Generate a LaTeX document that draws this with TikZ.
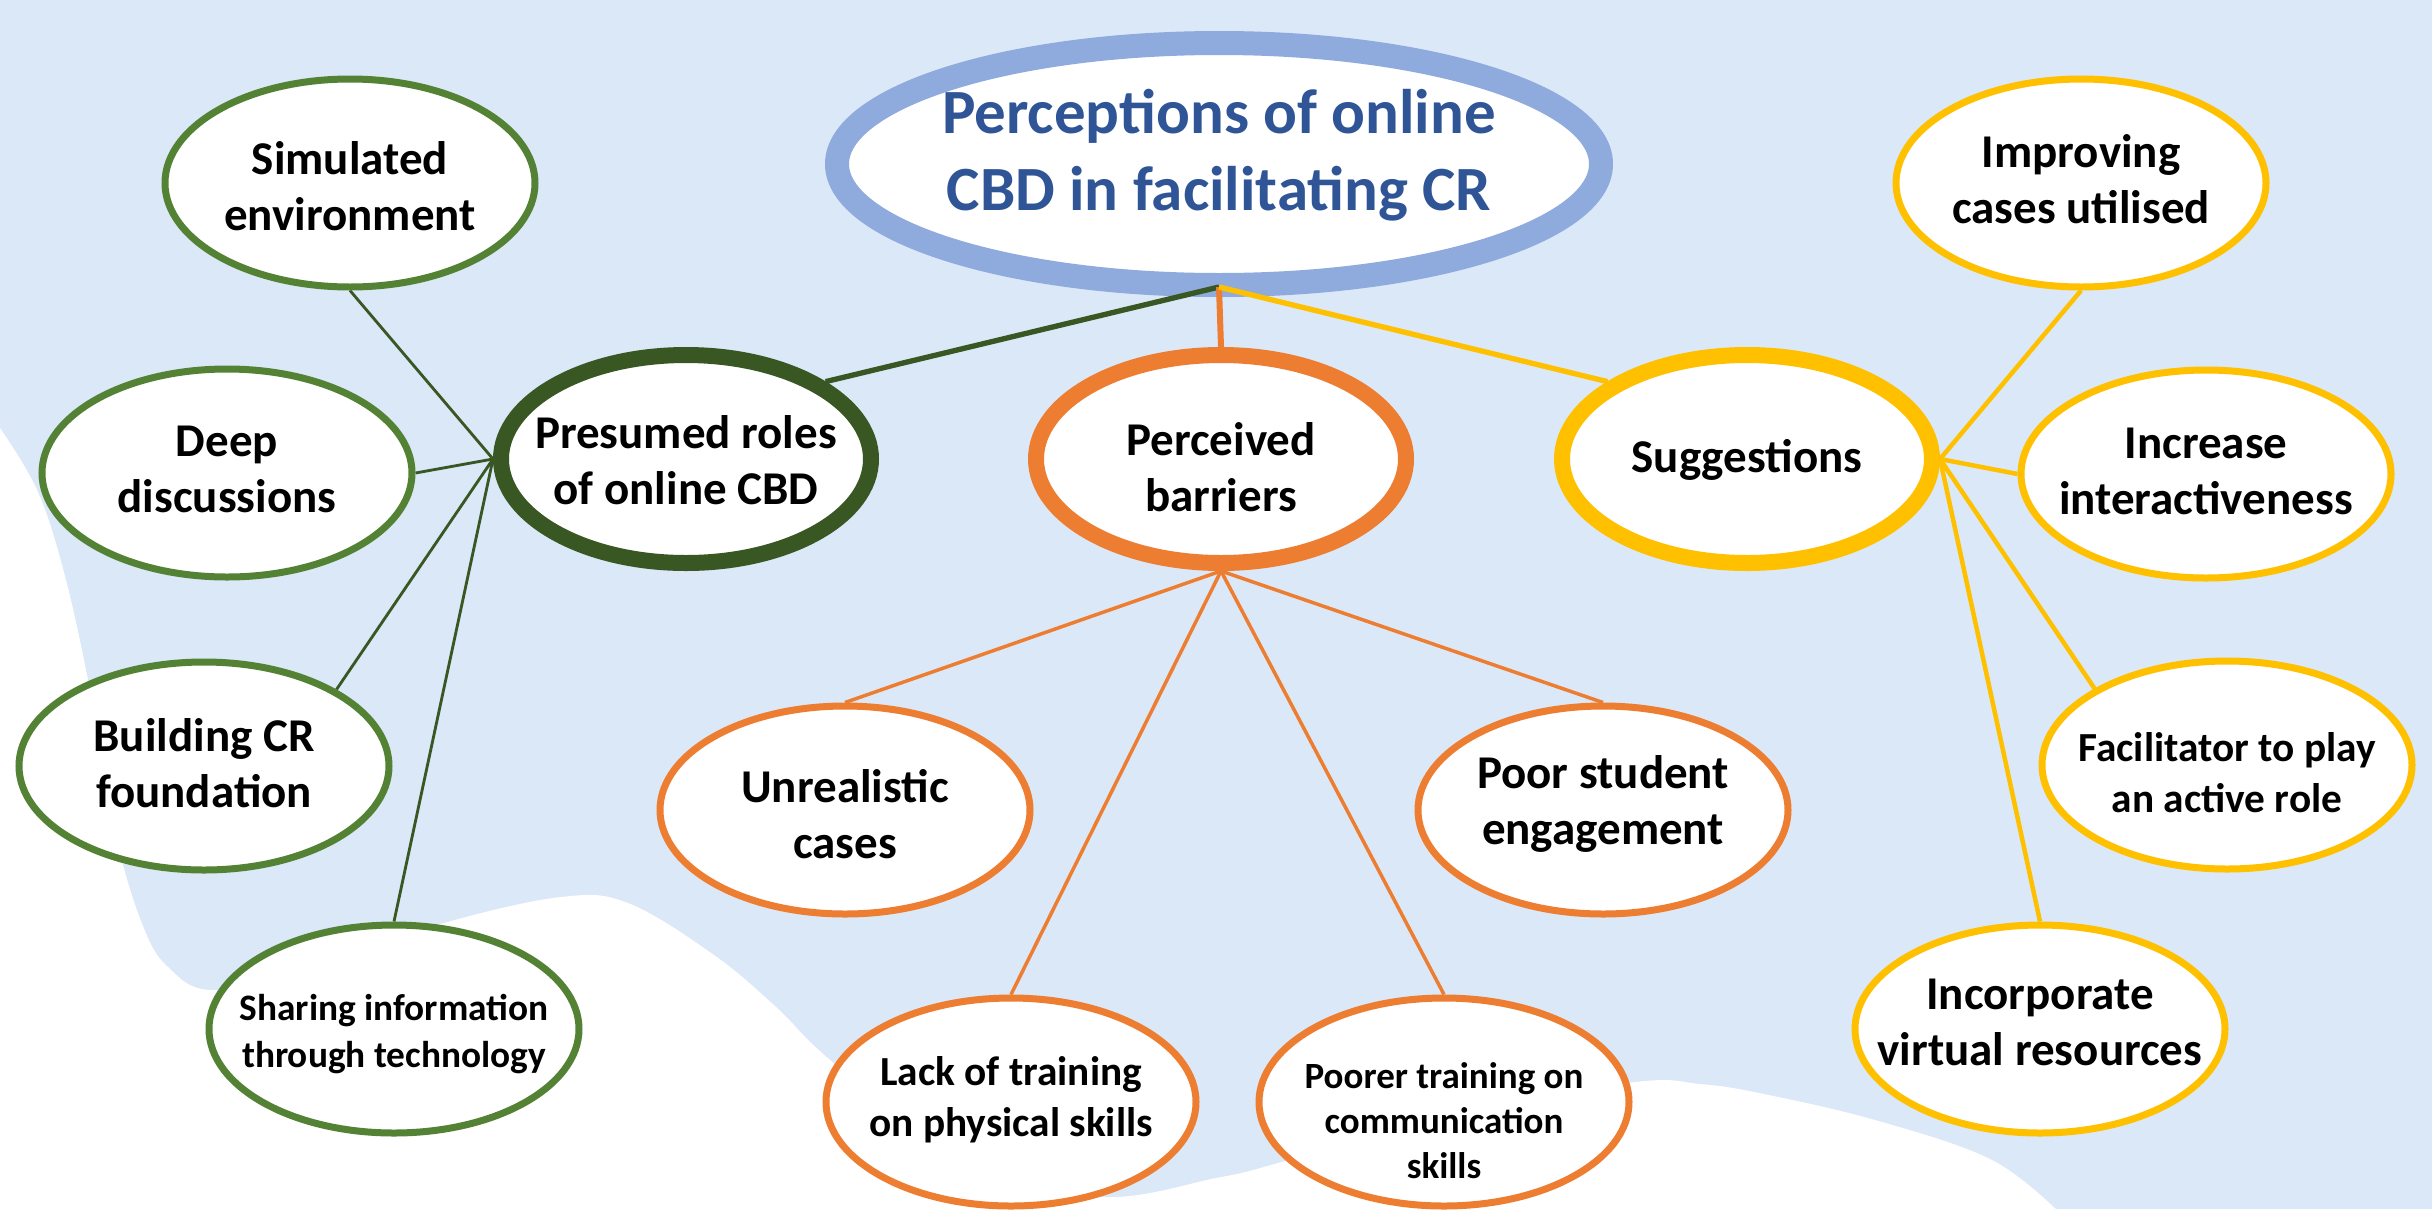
\documentclass[tikz,border=0pt]{standalone}
\usepackage{fontspec}
\setmainfont{Carlito}
\usetikzlibrary{shapes.geometric}
\definecolor{bgblue}{HTML}{DBE8F8}
\definecolor{ttl}{HTML}{8FAADC}
\definecolor{ttltext}{HTML}{2F5597}
\definecolor{dgreen}{HTML}{385723}
\definecolor{mgreen}{HTML}{548235}
\definecolor{orng}{HTML}{ED7D31}
\definecolor{gold}{HTML}{FFC000}
\pgfdeclarelayer{back}
\pgfdeclarelayer{conn}
\pgfsetlayers{back,conn,main}
\begin{document}
\begin{tikzpicture}[x=0.3pt,y=-0.3pt,
  ell/.style={ellipse, fill=white, inner sep=0pt, minimum width=111pt, minimum height=62.4pt, line width=2.1pt},
  hub/.style={ell, line width=4.8pt},
  lbl/.style={align=center, inner sep=0pt, font=\bfseries\fontsize{14.1}{16.8}\selectfont},
  smalllbl/.style={align=center, inner sep=0pt, font=\bfseries\fontsize{11.2}{14.1}\selectfont},
  midlbl/.style={align=center, inner sep=0pt, font=\bfseries\fontsize{12.4}{15.3}\selectfont},
  topline/.style={line width=1.6pt},
  gline/.style={dgreen, line width=0.85pt},
  oline/.style={orng, line width=1.05pt},
  yline/.style={gold, line width=1.35pt}]
\useasboundingbox (0,0) rectangle (2432,1209);
\begin{pgfonlayer}{back}
\fill[bgblue] (0,0) rectangle (2432,1209);
\fill[white] plot[smooth, tension=0.6] coordinates {(0,428) (38,492) (66,580) (92,700) (117,840) (143,926) (168,967) (214,990) (320,965) (444,923) (561,897) (628,903) (714,955) (776,1007) (830,1060) (960,1165) (1100,1197) (1216,1178) (1278,1163) (1450,1112) (1635,1082) (1700,1084) (1759,1093) (1875,1120) (1992,1160) (2062,1215)} -- (0,1215) -- cycle;
\end{pgfonlayer}

% title
\node[ell, draw=ttl, line width=7.2pt, minimum width=229.2pt, minimum height=72.6pt] (tit) at (1219,164) {};
\node[align=center, inner sep=0pt, text=ttltext, font=\bfseries\fontsize{18.9}{23.1}\selectfont] (titT) at (1219,155) {Perceptions of online\\CBD in facilitating CR};
\coordinate (tj) at ([yshift=3pt]tit.south);

% hubs
\node[hub, draw=dgreen] (pre) at (686,459) {};
\node[lbl] (preT) at (686,460) {Presumed roles\\of online CBD};
\node[hub, draw=orng] (per) at (1221,459) {};
\node[lbl] (perT) at (1221,467) {Perceived\\barriers};
\node[hub, draw=gold] (sug) at (1747,459) {};
\node[lbl] (sugT) at (1747,460) {Suggestions};

% green subs
\node[ell, draw=mgreen] (sim) at (350,183) {};
\node[lbl] (simT) at (350,186) {Simulated\\environment};
\node[ell, draw=mgreen] (dee) at (227,473) {};
\node[lbl] (deeT) at (227,469) {Deep\\discussions};
\node[ell, draw=mgreen] (bld) at (204,766) {};
\node[lbl] (bldT) at (204,763) {Building CR\\foundation};
\node[ell, draw=mgreen] (sha) at (394,1029) {};
\node[smalllbl] (shaT) at (394,1034) {Sharing information\\through technology};

% orange subs
\node[ell, draw=orng] (unr) at (845,810) {};
\node[lbl] (unrT) at (845,814) {Unrealistic\\cases};
\node[ell, draw=orng] (poo) at (1603,810) {};
\node[lbl] (pooT) at (1603,804) {Poor student\\engagement};
\node[ell, draw=orng] (lac) at (1011,1102) {};
\node[midlbl] (lacT) at (1011,1100) {Lack of training\\on physical skills};
\node[ell, draw=orng] (pot) at (1444,1102) {};
\node[align=center, inner sep=0pt, font=\bfseries\fontsize{11.1}{13.5}\selectfont] (potT) at (1444,1121) {Poorer training on\\communication\\skills};

% gold subs
\node[ell, draw=gold] (imp) at (2081,183) {};
\node[lbl] (impT) at (2081,179) {Improving\\cases utilised};
\node[ell, draw=gold] (inc) at (2206,474) {};
\node[lbl] (incT) at (2206,471) {Increase\\interactiveness};
\node[ell, draw=gold] (fac) at (2227,765) {};
\node[midlbl] (facT) at (2227,773) {Facilitator to play\\an active role};
\node[ell, draw=gold] (cor) at (2040,1029) {};
\node[lbl] (corT) at (2040,1022) {Incorporate\\virtual resources};

% top connectors (drawn over the title band)
\draw[topline, dgreen] (tj) -- (pre.29);
\draw[topline, orng, line width=1.8pt] (tj) -- (per.north);
\draw[topline, gold] (tj) -- (sug.151);

\begin{pgfonlayer}{conn}
\draw[gline] (pre.west) -- (sim.south);
\draw[gline] (pre.west) -- (dee.east);
\draw[gline] (pre.west) -- (bld.30);
\draw[gline] (pre.west) -- (sha.north);
\draw[oline] (per.south) -- (unr.north);
\draw[oline] (per.south) -- (lac.north);
\draw[oline] (per.south) -- (pot.north);
\draw[oline] (per.south) -- (poo.north);
\draw[yline] (sug.east) -- (imp.south);
\draw[yline] (sug.east) -- (inc.west);
\draw[yline] (sug.east) -- (fac.150);
\draw[yline] (sug.east) -- (cor.north);
\end{pgfonlayer}
\end{tikzpicture}
\end{document}
